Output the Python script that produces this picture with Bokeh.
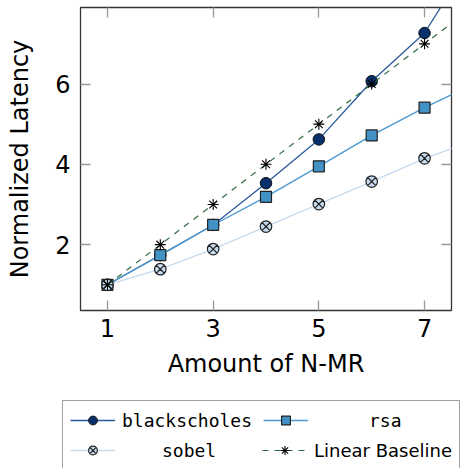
from bokeh.plotting import figure
from bokeh.layouts import column
from bokeh.models import (Range1d, FixedTicker, LinearAxis, Legend, LegendItem,
                          ColumnDataSource)
from bokeh.embed import file_html
from bokeh.resources import INLINE

# ---- data ----
x_vals = [1, 2, 3, 4, 5, 6, 7, 8]
blackscholes = [1.0, 1.74, 2.49, 3.53, 4.62, 6.07, 7.27, 9.37]
rsa = [1.0, 1.74, 2.49, 3.19, 3.95, 4.72, 5.41, 6.04]
sobel = [1.0, 1.39, 1.89, 2.45, 3.01, 3.57, 4.15, 4.62]
linear = [1, 2, 3, 4, 5, 6, 7, 8]
x_ticks = [1, 3, 5, 7]
y_ticks = [2, 4, 6]

FONT = "DejaVu Sans"
MONO = "DejaVu Sans Mono"

STYLES = {
    "bs_line": dict(line_color="#2b5a9b", line_width=1.3),
    "bs_pts": dict(marker="circle", size=11.5, fill_color="#08306b", line_color="#111111", line_width=1),
    "rsa_line": dict(line_color="#4a98cf", line_width=1.3),
    "rsa_pts": dict(marker="square", size=11, fill_color="#4292c6", line_color="#222222", line_width=1.2),
    "sob_line": dict(line_color="#c6dbef", line_width=1.3),
    "sob_pts": dict(marker="circle_x", size=11.5, fill_color="#c6dbef", line_color="#222222", line_width=1.2),
    "lin_line": dict(line_color="#2e6b40", line_width=1.2, line_dash="6 6"),
    "lin_pts": dict(marker="asterisk", size=11, line_color="black", line_width=1.1),
}

src = ColumnDataSource(dict(x=x_vals, bs=blackscholes, rsa=rsa, sobel=sobel, lin=linear))

p = figure(width=467, height=398, output_backend="svg", toolbar_location=None,
           x_range=Range1d(0.49, 7.51), y_range=Range1d(0.36, 7.905),
           min_border_left=80, min_border_right=16, min_border_top=7,
           min_border_bottom=88)
p.background_fill_color = "white"
p.border_fill_color = "white"
p.outline_line_color = "#333333"
p.outline_line_width = 1.3
p.grid.visible = False
p.frame_align = False

def style_axis(ax, ticks, show_labels=True):
    ax.ticker = FixedTicker(ticks=ticks)
    ax.axis_line_color = None
    ax.major_tick_in = 10
    ax.major_tick_out = 0
    ax.major_tick_line_color = "#999999"
    ax.major_tick_line_width = 1.3
    ax.minor_tick_line_color = None
    if show_labels:
        ax.major_label_text_font = FONT
        ax.major_label_text_font_size = "24px"
        ax.major_label_text_color = "black"
    else:
        ax.major_label_text_font_size = "1px"
        ax.major_label_text_color = None
        ax.major_label_standoff = 0

style_axis(p.xaxis[0], x_ticks)
style_axis(p.yaxis[0], y_ticks)
p.xaxis[0].major_label_standoff = 8
p.yaxis[0].major_label_standoff = 10
p.xaxis.axis_label = "Amount of N-MR"
p.yaxis.axis_label = "Normalized Latency"
for ax in (p.xaxis[0], p.yaxis[0]):
    ax.axis_label_text_font = FONT
    ax.axis_label_text_font_size = "24px"
    ax.axis_label_text_font_style = "normal"
    ax.axis_label_text_color = "black"
p.xaxis[0].axis_label_standoff = 10
p.yaxis[0].axis_label_standoff = 18

top_ax = LinearAxis()
style_axis(top_ax, x_ticks, show_labels=False)
p.add_layout(top_ax, "above")
right_ax = LinearAxis()
style_axis(right_ax, y_ticks, show_labels=False)
p.add_layout(right_ax, "right")

# ---- series ----
p.line("x", "bs", source=src, **STYLES["bs_line"])
p.scatter("x", "bs", source=src, **STYLES["bs_pts"])
p.line("x", "rsa", source=src, **STYLES["rsa_line"])
p.scatter("x", "rsa", source=src, **STYLES["rsa_pts"])
p.line("x", "sobel", source=src, **STYLES["sob_line"])
p.scatter("x", "sobel", source=src, **STYLES["sob_pts"])
p.line("x", "lin", source=src, **STYLES["lin_line"])
p.scatter("x", "lin", source=src, **STYLES["lin_pts"])

# ---- legend panel (separate figure below, frame = whole canvas) ----
lf = figure(width=467, height=70, output_backend="svg", toolbar_location=None,
            x_axis_type=None, y_axis_type=None, x_range=Range1d(0, 1), y_range=Range1d(0, 1),
            min_border_left=0, min_border_right=0, min_border_top=0, min_border_bottom=0)
lf.outline_line_color = None
lf.grid.visible = False
lf.background_fill_color = "white"
lf.border_fill_color = "white"
lf.frame_align = False

# legend proxy glyphs (one point each, placed outside the visible range)
proxy = ColumnDataSource(dict(x=[5], y=[5]))
r = {}
for k, st in STYLES.items():
    if k.endswith("_line"):
        r[k] = lf.line("x", "y", source=proxy, **st)
    else:
        r[k] = lf.scatter("x", "y", source=proxy, **st)

dummy = lf.scatter("x", "y", source=proxy, size=0, alpha=0)
box = Legend(items=[LegendItem(label="", renderers=[dummy])],
             location=(62, -14), padding=0, spacing=0, margin=0,
             glyph_width=396, glyph_height=80, label_standoff=0, label_width=0,
             label_height=0, label_text_font_size="1px", label_text_color=None,
             border_line_color="#444444", border_line_width=1.3,
             background_fill_color="white", background_fill_alpha=1)
lf.add_layout(box)

def item_legend(label, renderers, loc, standoff, font):
    lg = Legend(items=[LegendItem(label=label, renderers=renderers)],
                location=loc, padding=0, spacing=0, margin=0,
                glyph_width=45, glyph_height=22, label_height=22, label_width=0,
                label_standoff=standoff, label_text_font=font,
                label_text_font_size="18px", label_text_color="black",
                border_line_color=None, background_fill_alpha=0)
    lf.add_layout(lg)

item_legend("blackscholes", [r["bs_line"], r["bs_pts"]], (70, 37), 7, MONO)
item_legend("rsa", [r["rsa_line"], r["rsa_pts"]], (263, 37), 61, MONO)
item_legend("sobel", [r["sob_line"], r["sob_pts"]], (70, 7), 47, MONO)
item_legend("Linear Baseline", [r["lin_line"], r["lin_pts"]], (262, 7), 7, FONT)

layout = column(p, lf, spacing=0)
open("out.html", "w").write(file_html(layout, INLINE))
